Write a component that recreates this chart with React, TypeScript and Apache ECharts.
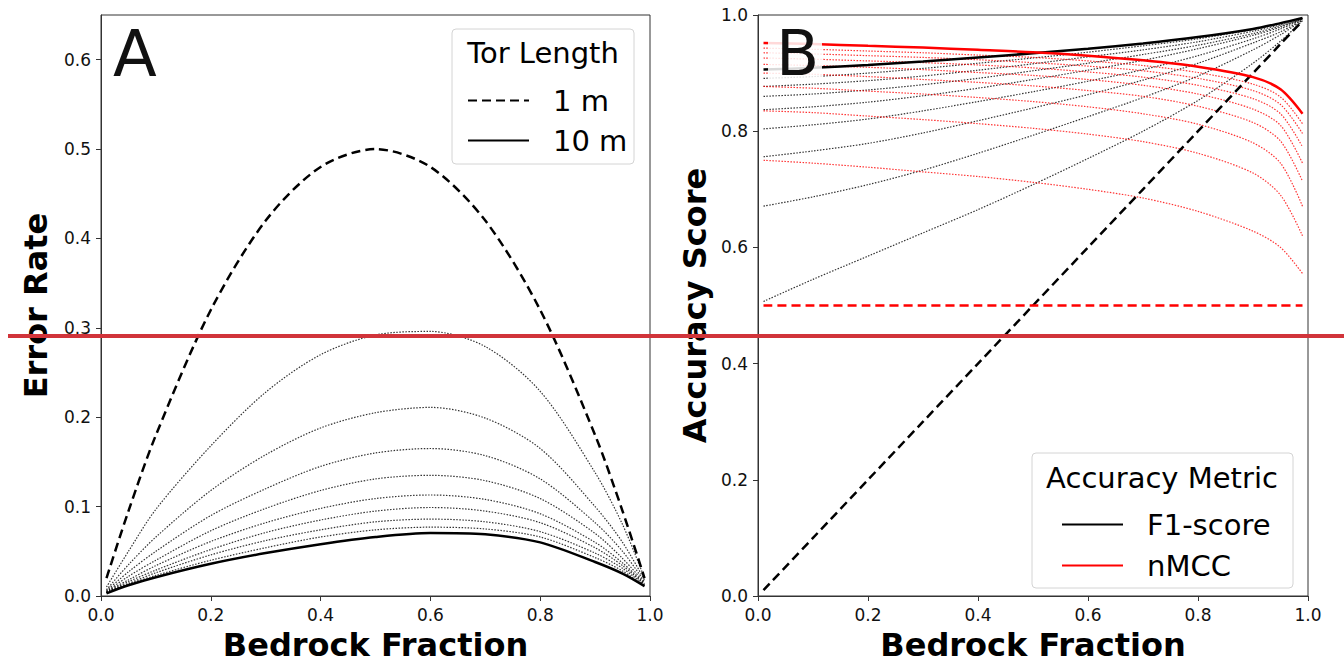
import React, { useEffect, useRef } from "react";
import * as echarts from "echarts";

// ---------- Panel A: error rate vs bedrock fraction ----------
const BEDROCK_A = [0.01, 0.05, 0.1, 0.2, 0.3, 0.4, 0.5, 0.6, 0.7, 0.8, 0.9, 0.95, 0.99];
const TOR_LENGTHS = ["1 m", "2 m", "3 m", "4 m", "5 m", "6 m", "7 m", "8 m", "9 m", "10 m"];

const ERR_1M = [0.02, 0.095, 0.18, 0.32, 0.42, 0.48, 0.5, 0.48, 0.42, 0.32, 0.18, 0.095, 0.02];
const ERR_2M = [0.01, 0.05, 0.097, 0.168, 0.228, 0.27, 0.292, 0.296, 0.279, 0.229, 0.138, 0.08, 0.02];
const ERR_3M = [0.007, 0.035, 0.066, 0.118, 0.158, 0.188, 0.205, 0.211, 0.199, 0.165, 0.1, 0.06, 0.018];
const ERR_4M = [0.006, 0.027, 0.05, 0.09, 0.12, 0.145, 0.16, 0.165, 0.157, 0.131, 0.082, 0.05, 0.016];
const ERR_5M = [0.005, 0.022, 0.04, 0.073, 0.098, 0.118, 0.131, 0.135, 0.129, 0.109, 0.07, 0.042, 0.015];
const ERR_6M = [0.005, 0.018, 0.034, 0.061, 0.082, 0.098, 0.109, 0.113, 0.108, 0.092, 0.06, 0.037, 0.014];
const ERR_7M = [0.004, 0.016, 0.029, 0.052, 0.071, 0.085, 0.095, 0.099, 0.095, 0.082, 0.054, 0.034, 0.013];
const ERR_8M = [0.004, 0.014, 0.026, 0.046, 0.062, 0.074, 0.083, 0.086, 0.083, 0.072, 0.048, 0.031, 0.012];
const ERR_9M = [0.004, 0.013, 0.023, 0.04, 0.054, 0.066, 0.074, 0.077, 0.075, 0.066, 0.043, 0.028, 0.011];
const ERR_10M = [0.003, 0.012, 0.021, 0.036, 0.048, 0.058, 0.066, 0.0705, 0.069, 0.06, 0.038, 0.025, 0.011];
const ERROR_CURVES = [ERR_1M, ERR_2M, ERR_3M, ERR_4M, ERR_5M, ERR_6M, ERR_7M, ERR_8M, ERR_9M, ERR_10M];

// ---------- Panel B: accuracy scores vs bedrock fraction ----------
const BEDROCK_B = [0.01, 0.1, 0.2, 0.3, 0.4, 0.5, 0.6, 0.7, 0.8, 0.9, 0.95, 0.99];

const F1_1M = [0.01, 0.1, 0.2, 0.3, 0.4, 0.5, 0.6, 0.7, 0.8, 0.9, 0.95, 0.99];
const F1_2M = [0.507, 0.545, 0.585, 0.625, 0.665, 0.708, 0.753, 0.8, 0.853, 0.917, 0.955, 0.99];
const F1_3M = [0.671, 0.687, 0.708, 0.733, 0.762, 0.793, 0.825, 0.858, 0.895, 0.94, 0.966, 0.991];
const F1_4M = [0.756, 0.766, 0.779, 0.797, 0.818, 0.84, 0.863, 0.888, 0.917, 0.952, 0.971, 0.992];
const F1_5M = [0.804, 0.811, 0.821, 0.835, 0.851, 0.868, 0.886, 0.906, 0.93, 0.959, 0.976, 0.993];
const F1_6M = [0.837, 0.842, 0.85, 0.861, 0.874, 0.889, 0.905, 0.922, 0.942, 0.965, 0.979, 0.993];
const F1_7M = [0.86, 0.864, 0.871, 0.88, 0.891, 0.904, 0.917, 0.932, 0.948, 0.968, 0.981, 0.994];
const F1_8M = [0.877, 0.881, 0.887, 0.895, 0.905, 0.916, 0.928, 0.94, 0.954, 0.972, 0.983, 0.994];
const F1_9M = [0.891, 0.894, 0.9, 0.908, 0.917, 0.926, 0.936, 0.947, 0.959, 0.975, 0.985, 0.995];
const F1_10M = [0.906, 0.909, 0.914, 0.92, 0.927, 0.934, 0.942, 0.951, 0.962, 0.976, 0.986, 0.995];
const F1_CURVES = [F1_1M, F1_2M, F1_3M, F1_4M, F1_5M, F1_6M, F1_7M, F1_8M, F1_9M, F1_10M];

const NMCC_1M = [0.5, 0.5, 0.5, 0.5, 0.5, 0.5, 0.5, 0.5, 0.5, 0.5, 0.5, 0.5];
const NMCC_2M = [0.75, 0.745, 0.738, 0.73, 0.722, 0.712, 0.7, 0.685, 0.662, 0.628, 0.6, 0.555];
const NMCC_3M = [0.835, 0.832, 0.826, 0.82, 0.813, 0.805, 0.795, 0.782, 0.762, 0.728, 0.69, 0.62];
const NMCC_4M = [0.877, 0.874, 0.869, 0.864, 0.858, 0.851, 0.842, 0.83, 0.812, 0.78, 0.745, 0.671];
const NMCC_5M = [0.9, 0.898, 0.894, 0.889, 0.884, 0.878, 0.87, 0.86, 0.843, 0.815, 0.783, 0.714];
const NMCC_6M = [0.915, 0.913, 0.91, 0.906, 0.901, 0.896, 0.889, 0.879, 0.864, 0.838, 0.81, 0.745];
const NMCC_7M = [0.926, 0.924, 0.921, 0.918, 0.914, 0.909, 0.902, 0.893, 0.879, 0.856, 0.83, 0.773];
const NMCC_8M = [0.935, 0.933, 0.93, 0.927, 0.923, 0.918, 0.912, 0.904, 0.891, 0.87, 0.846, 0.796];
const NMCC_9M = [0.943, 0.941, 0.938, 0.935, 0.931, 0.927, 0.921, 0.913, 0.901, 0.881, 0.859, 0.813];
const NMCC_10M = [0.952, 0.95, 0.947, 0.944, 0.94, 0.936, 0.93, 0.922, 0.911, 0.893, 0.872, 0.83];
const NMCC_CURVES = [NMCC_1M, NMCC_2M, NMCC_3M, NMCC_4M, NMCC_5M, NMCC_6M, NMCC_7M, NMCC_8M, NMCC_9M, NMCC_10M];

// ---------- ticks ----------
const X_TICKS = [0, 0.2, 0.4, 0.6, 0.8, 1.0];
const Y_TICKS_A = [0, 0.1, 0.2, 0.3, 0.4, 0.5, 0.6];
const Y_TICKS_B = [0, 0.2, 0.4, 0.6, 0.8, 1.0];

const FONT = "DejaVu Sans";

function lineStyleFor(i: number, n: number, color: string) {
  if (i === 0) return { color, width: 2.5, type: [9, 5] as any };
  if (i === n - 1) return { color, width: 2.5, type: "solid" as any };
  return { color, width: 1.2, type: [1.5, 1.5] as any, opacity: 0.8 };
}

export default function App() {
  const ref = useRef<HTMLDivElement>(null);

  useEffect(() => {
    if (!ref.current) return;
    const chart = echarts.init(ref.current, undefined, { renderer: "svg" });

    const axisCommon = {
      type: "value",
      splitLine: { show: false },
      axisLine: { show: true, onZero: false, lineStyle: { color: "#333", width: 1 } },
      axisTick: { show: true, length: 5, lineStyle: { color: "#333", width: 1 } },
      nameLocation: "middle",
      nameTextStyle: { fontFamily: FONT, fontWeight: "bold", fontSize: 32, color: "#000" },
    };
    const labelCommon = {
      fontFamily: FONT,
      fontSize: 17,
      color: "#111",
      formatter: (v: number) => v.toFixed(1),
    };

    const series: any[] = [];
    const n = TOR_LENGTHS.length;
    const pushCurves = (
      curves: number[][],
      xs: number[],
      axis: number,
      color: string,
      nameFor: (i: number) => string
    ) => {
      curves.forEach((vals, i) => {
        series.push({
          type: "line",
          name: nameFor(i),
          xAxisIndex: axis,
          yAxisIndex: axis,
          data: xs.map((f, j) => [f, vals[j]]),
          symbol: "none",
          showSymbol: false,
          smooth: 0.3,
          silent: true,
          z: i === 0 || i === n - 1 ? 4 : 2,
          itemStyle: { color, opacity: 0 },
          lineStyle: lineStyleFor(i, n, color),
        });
      });
    };
    pushCurves(ERROR_CURVES, BEDROCK_A, 0, "#000", (i) => TOR_LENGTHS[i]);
    pushCurves(F1_CURVES, BEDROCK_B, 1, "#000", (i) =>
      i === n - 1 ? "F1-score" : "F1-score " + TOR_LENGTHS[i]
    );
    pushCurves(NMCC_CURVES, BEDROCK_B, 1, "#ff0000", (i) =>
      i === n - 1 ? "nMCC" : "nMCC " + TOR_LENGTHS[i]
    );

    const legendText = { fontFamily: FONT, fontSize: 29, color: "#000", padding: [0, 0, 0, 19] };
    const legendCommon = {
      orient: "vertical",
      itemWidth: 61,
      itemHeight: 14,
      selectedMode: false,
      textStyle: legendText,
      itemStyle: { opacity: 0, color: "transparent", borderWidth: 0 },
      z: 6,
    };

    chart.setOption({
      animation: false,
      backgroundColor: "#fff",
      grid: [
        { left: 101, top: 15, width: 549, height: 588, show: true, borderColor: "#333", borderWidth: 1 },
        { left: 758, top: 15, width: 550, height: 588, show: true, borderColor: "#333", borderWidth: 1 },
      ],
      xAxis: [0, 1].map((g) => ({
        ...axisCommon,
        gridIndex: g,
        min: 0,
        max: 1,
        interval: 0.2,
        name: "Bedrock Fraction",
        nameGap: 33,
        axisTick: { ...axisCommon.axisTick, customValues: X_TICKS },
        axisLabel: { ...labelCommon, margin: 10, customValues: X_TICKS },
      })),
      yAxis: [
        {
          ...axisCommon,
          gridIndex: 0,
          min: 0,
          max: 0.65,
          interval: 0.1,
          name: "Error Rate",
          nameGap: 49,
          axisTick: { ...axisCommon.axisTick, customValues: Y_TICKS_A },
          axisLabel: { ...labelCommon, margin: 10, customValues: Y_TICKS_A },
        },
        {
          ...axisCommon,
          gridIndex: 1,
          min: 0,
          max: 1,
          interval: 0.2,
          name: "Accuracy Score",
          nameGap: 47,
          axisTick: { ...axisCommon.axisTick, customValues: Y_TICKS_B },
          axisLabel: { ...labelCommon, margin: 10, customValues: Y_TICKS_B },
        },
      ],
      legend: [
        { ...legendCommon, data: ["1 m", "10 m"], left: 462, top: 81, itemGap: 11 },
        { ...legendCommon, data: ["F1-score", "nMCC"], left: 1056, top: 505, itemGap: 12 },
      ],
      graphic: [
        {
          type: "rect",
          z: 5,
          shape: { x: 452, y: 29, width: 182, height: 135, r: 4 },
          style: { fill: "rgba(255,255,255,0.8)", stroke: "#d4d4d4", lineWidth: 1 },
        },
        {
          type: "text",
          z: 6,
          style: {
            text: "Tor Length",
            x: 543,
            y: 53,
            fontFamily: FONT,
            fontSize: 29,
            fill: "#000",
            textAlign: "center",
            textVerticalAlign: "middle",
          },
        },
        {
          type: "rect",
          z: 5,
          shape: { x: 1032, y: 453, width: 261, height: 135, r: 4 },
          style: { fill: "rgba(255,255,255,0.8)", stroke: "#d4d4d4", lineWidth: 1 },
        },
        {
          type: "text",
          z: 6,
          style: {
            text: "Accuracy Metric",
            x: 1162,
            y: 478,
            fontFamily: FONT,
            fontSize: 29,
            fill: "#000",
            textAlign: "center",
            textVerticalAlign: "middle",
          },
        },
        {
          type: "text",
          z: 6,
          style: {
            text: "A",
            x: 113,
            y: 54,
            fontFamily: FONT,
            fontSize: 64,
            fill: "#111",
            textAlign: "left",
            textVerticalAlign: "middle",
          },
        },
        {
          type: "rect",
          z: 5,
          shape: { x: 768, y: 24, width: 54, height: 58 },
          style: { fill: "rgba(255,255,255,0.85)" },
        },
        {
          type: "text",
          z: 6,
          style: {
            text: "B",
            x: 776,
            y: 53,
            fontFamily: FONT,
            fontSize: 63,
            fill: "#111",
            textAlign: "left",
            textVerticalAlign: "middle",
          },
        },
        {
          type: "line",
          z: 20,
          shape: { x1: 8, y1: 336, x2: 1344, y2: 336 },
          style: { stroke: "#d1343a", lineWidth: 4 },
        },
      ],
      series,
    });

    return () => chart.dispose();
  }, []);

  return (
    <div
      ref={ref}
      style={{ position: "absolute", left: 0, top: 0, width: 1344, height: 666 }}
    />
  );
}
